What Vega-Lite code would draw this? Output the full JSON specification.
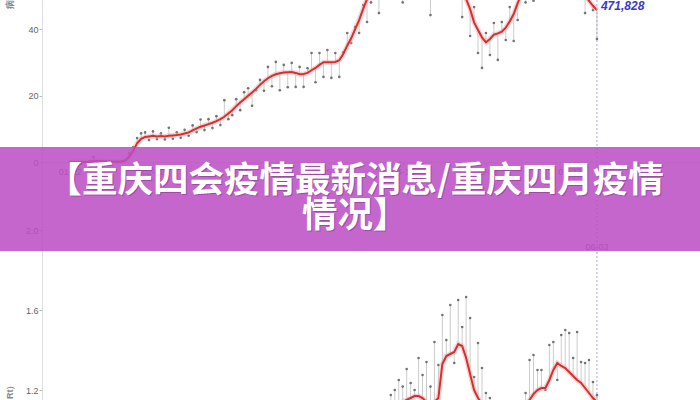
{
  "$schema": "https://vega.github.io/schema/vega-lite/v6.json",
  "width": 658,
  "height": 400,
  "autosize": {"type": "none"},
  "padding": {"left": 42, "top": 0, "right": 0, "bottom": 0},
  "background": "white",
  "config": {
    "view": {"stroke": null},
    "font": "Liberation Sans",
    "axis": {"grid": false, "labelFont": "Liberation Sans", "titleFont": "Liberation Sans"},
    "axisX": {"offset": -238, "domainColor": "#dddddd", "tickColor": "#bbbbbb", "tickSize": 3, "labelFontSize": 9, "labelColor": "#666666", "labelPadding": 2, "format": "%m-%d", "labelFlush": false, "labelOverlap": false}
  },
  "resolve": {"scale": {"y": "independent"}, "axis": {"y": "independent"}},
  "layer": [
    {
      "data": {
        "format": {"parse": {"d": "date:'%Y-%m-%d'"}},
        "values": [
          {"d":"2020-01-22","v":0,"a":0},{"d":"2020-01-23","v":0,"a":0},{"d":"2020-01-24","v":0,"a":0},{"d":"2020-01-25","v":0,"a":0},{"d":"2020-01-26","v":0,"a":0},
          {"d":"2020-01-27","v":0.3,"a":0.1},{"d":"2020-01-28","v":1.5,"a":0.3},{"d":"2020-01-29","v":0.3,"a":0.3},{"d":"2020-01-30","v":0,"a":0.3},{"d":"2020-01-31","v":0,"a":0.2},
          {"d":"2020-02-01","v":0.2,"a":0.2},{"d":"2020-02-02","v":0,"a":0.1},{"d":"2020-02-03","v":0,"a":0.1},{"d":"2020-02-04","v":0.2,"a":0.1},{"d":"2020-02-05","v":0.6,"a":0.4},
          {"d":"2020-02-06","v":2.6,"a":1.6},{"d":"2020-02-07","v":4.5,"a":3.4},{"d":"2020-02-08","v":7.2,"a":5.6},{"d":"2020-02-09","v":8.6,"a":7.0},{"d":"2020-02-10","v":8.9,"a":7.5},
          {"d":"2020-02-11","v":6.6,"a":7.7},{"d":"2020-02-12","v":9.2,"a":7.9},{"d":"2020-02-13","v":6.9,"a":7.7},{"d":"2020-02-14","v":8.6,"a":7.8},{"d":"2020-02-15","v":6.8,"a":7.7},
          {"d":"2020-02-16","v":10.3,"a":7.9},{"d":"2020-02-17","v":7.0,"a":8.0},{"d":"2020-02-18","v":8.9,"a":8.1},{"d":"2020-02-19","v":7.3,"a":8.3},{"d":"2020-02-20","v":9.7,"a":8.6},
          {"d":"2020-02-21","v":7.9,"a":8.9},{"d":"2020-02-22","v":11.0,"a":9.5},{"d":"2020-02-23","v":9.0,"a":10.1},{"d":"2020-02-24","v":12.8,"a":10.6},{"d":"2020-02-25","v":9.6,"a":11.0},
          {"d":"2020-02-26","v":12.9,"a":11.4},{"d":"2020-02-27","v":10.2,"a":11.8},{"d":"2020-02-28","v":13.8,"a":12.3},{"d":"2020-02-29","v":11.1,"a":12.9},{"d":"2020-03-01","v":18.6,"a":13.6},
          {"d":"2020-03-02","v":12.9,"a":14.6},{"d":"2020-03-03","v":14.1,"a":15.6},{"d":"2020-03-04","v":18.9,"a":16.8},{"d":"2020-03-05","v":15.6,"a":17.9},{"d":"2020-03-06","v":21.0,"a":18.9},
          {"d":"2020-03-07","v":22.2,"a":19.9},{"d":"2020-03-08","v":16.9,"a":20.9},{"d":"2020-03-09","v":21.6,"a":22.0},{"d":"2020-03-10","v":24.7,"a":23.2},{"d":"2020-03-11","v":21.4,"a":24.3},
          {"d":"2020-03-12","v":28.6,"a":25.2},{"d":"2020-03-13","v":22.8,"a":25.9},{"d":"2020-03-14","v":30.1,"a":26.4},{"d":"2020-03-15","v":21.6,"a":26.7},{"d":"2020-03-16","v":29.2,"a":26.9},
          {"d":"2020-03-17","v":22.5,"a":27.0},{"d":"2020-03-18","v":29.8,"a":27.1},{"d":"2020-03-19","v":22.6,"a":26.8},{"d":"2020-03-20","v":28.6,"a":26.4},{"d":"2020-03-21","v":22.6,"a":26.5},
          {"d":"2020-03-22","v":28.2,"a":26.8},{"d":"2020-03-23","v":32.8,"a":27.6},{"d":"2020-03-24","v":24.0,"a":28.3},{"d":"2020-03-25","v":32.8,"a":29.2},{"d":"2020-03-26","v":25.6,"a":30.0},
          {"d":"2020-03-27","v":33.7,"a":30.0},{"d":"2020-03-28","v":25.3,"a":30.0},{"d":"2020-03-29","v":32.8,"a":30.1},{"d":"2020-03-30","v":25.6,"a":30.6},{"d":"2020-03-31","v":33.0,"a":32.5},
          {"d":"2020-04-01","v":38.8,"a":35.0},{"d":"2020-04-02","v":35.8,"a":37.2},{"d":"2020-04-03","v":40.6,"a":40.0},{"d":"2020-04-04","v":38.8,"a":42.7},{"d":"2020-04-05","v":47.2,"a":46.0},
          {"d":"2020-04-06","v":42.1,"a":49.0},{"d":"2020-04-07","v":48.0,"a":51.5},{"d":"2020-04-08","v":56.0,"a":53.0},{"d":"2020-04-09","v":44.8,"a":54.0},{"d":"2020-04-10","v":58.0,"a":54.5},
          {"d":"2020-04-11","v":51.0,"a":55.0},{"d":"2020-04-12","v":59.0,"a":55.0},{"d":"2020-04-13","v":52.0,"a":54.5},{"d":"2020-04-14","v":58.0,"a":54.5},{"d":"2020-04-15","v":48.0,"a":54.0},
          {"d":"2020-04-16","v":57.0,"a":54.0},{"d":"2020-04-17","v":51.0,"a":54.5},{"d":"2020-04-18","v":59.0,"a":55.0},{"d":"2020-04-19","v":50.5,"a":55.0},{"d":"2020-04-20","v":58.0,"a":54.5},
          {"d":"2020-04-21","v":52.0,"a":54.0},{"d":"2020-04-22","v":44.2,"a":53.5},{"d":"2020-04-23","v":57.0,"a":53.0},{"d":"2020-04-24","v":50.0,"a":53.0},{"d":"2020-04-25","v":58.0,"a":52.5},
          {"d":"2020-04-26","v":50.5,"a":52.5},{"d":"2020-04-27","v":56.0,"a":52.0},{"d":"2020-04-28","v":49.5,"a":51.5},{"d":"2020-04-29","v":55.0,"a":51.0},{"d":"2020-04-30","v":43.6,"a":50.0},
          {"d":"2020-05-01","v":52.0,"a":49.0},{"d":"2020-05-02","v":37.9,"a":46.0},{"d":"2020-05-03","v":46.6,"a":42.0},{"d":"2020-05-04","v":32.8,"a":39.7},{"d":"2020-05-05","v":28.3,"a":37.5},
          {"d":"2020-05-06","v":38.8,"a":36.0},{"d":"2020-05-07","v":32.2,"a":37.0},{"d":"2020-05-08","v":41.8,"a":38.3},{"d":"2020-05-09","v":30.7,"a":38.7},{"d":"2020-05-10","v":42.1,"a":39.2},
          {"d":"2020-05-11","v":36.7,"a":40.4},{"d":"2020-05-12","v":46.6,"a":42.3},{"d":"2020-05-13","v":36.4,"a":44.5},{"d":"2020-05-14","v":42.7,"a":47.8},{"d":"2020-05-15","v":55.0,"a":50.5},
          {"d":"2020-05-16","v":48.0,"a":52.0},{"d":"2020-05-17","v":57.0,"a":53.0},{"d":"2020-05-18","v":48.5,"a":53.5},{"d":"2020-05-19","v":58.0,"a":54.0},{"d":"2020-05-20","v":51.0,"a":54.0},
          {"d":"2020-05-21","v":58.0,"a":54.0},{"d":"2020-05-22","v":50.5,"a":53.5},{"d":"2020-05-23","v":57.0,"a":53.5},{"d":"2020-05-24","v":50.0,"a":53.0},{"d":"2020-05-25","v":58.0,"a":53.0},
          {"d":"2020-05-26","v":50.0,"a":52.5},{"d":"2020-05-27","v":56.0,"a":52.5},{"d":"2020-05-28","v":50.0,"a":52.0},{"d":"2020-05-29","v":55.0,"a":51.5},{"d":"2020-05-30","v":49.5,"a":51.0},
          {"d":"2020-05-31","v":44.8,"a":50.0},{"d":"2020-06-01","v":52.0,"a":48.5},{"d":"2020-06-02","v":45.7,"a":47.0},{"d":"2020-06-03","v":37.0,"a":45.7}
        ]
      },
      "encoding": {
        "x": {
          "field": "d", "type": "temporal", "title": null,
          "scale": {"domain": [{"year": 2020, "month": 1, "date": 15}, {"year": 2020, "month": 6, "date": 29}]},
          "axis": {"values": [{"year": 2020, "month": 1, "date": 22}, {"year": 2020, "month": 2, "date": 12}, {"year": 2020, "month": 3, "date": 4}, {"year": 2020, "month": 3, "date": 25}, {"year": 2020, "month": 4, "date": 15}, {"year": 2020, "month": 5, "date": 6}, {"year": 2020, "month": 5, "date": 27}]}
        }
      },
      "layer": [
        {
          "mark": {"type": "rule", "color": "#cccccc", "strokeWidth": 1},
          "encoding": {
            "y": {
              "field": "v", "type": "quantitative",
              "scale": {"domain": [-71.58, 48.73], "nice": false, "zero": false},
              "axis": {"orient": "left", "values": [0, 20, 40], "title": "病例数（千）", "titleAngle": -90, "titleAlign": "left", "titleBaseline": "bottom", "titleY": 8, "titleX": -28, "titleFontSize": 9, "titleColor": "#888888", "domainColor": "#dddddd", "tickColor": "#bbbbbb", "tickSize": 3, "labelPadding": 1, "labelFontSize": 9, "labelColor": "#666666"}
            },
            "y2": {"field": "a"}
          }
        },
        {
          "mark": {"type": "point", "filled": true, "size": 7, "color": "#666666", "opacity": 0.9},
          "encoding": {"y": {"field": "v", "type": "quantitative"}}
        },
        {
          "mark": {"type": "line", "color": "#f2a3a3", "strokeWidth": 5, "opacity": 0.45},
          "encoding": {"y": {"field": "a", "type": "quantitative"}}
        },
        {
          "mark": {"type": "line", "color": "#d62f2f", "strokeWidth": 2},
          "encoding": {"y": {"field": "a", "type": "quantitative"}}
        }
      ]
    },
    {
      "data": {
        "format": {"parse": {"d": "date:'%Y-%m-%d'"}},
        "values": [
          {"d":"2020-04-11","v":1.12,"a":1.10},{"d":"2020-04-12","v":1.175,"a":1.11},{"d":"2020-04-13","v":1.20,"a":1.12},{"d":"2020-04-14","v":1.25,"a":1.13},{"d":"2020-04-15","v":1.217,"a":1.14},
          {"d":"2020-04-16","v":1.305,"a":1.15},{"d":"2020-04-17","v":1.235,"a":1.16},{"d":"2020-04-18","v":1.20,"a":1.17},{"d":"2020-04-19","v":1.36,"a":1.17},{"d":"2020-04-20","v":1.275,"a":1.16},
          {"d":"2020-04-21","v":1.34,"a":1.14},{"d":"2020-04-22","v":1.217,"a":1.13},{"d":"2020-04-23","v":1.44,"a":1.14},{"d":"2020-04-24","v":1.325,"a":1.16},{"d":"2020-04-25","v":1.575,"a":1.33},
          {"d":"2020-04-26","v":1.45,"a":1.37},{"d":"2020-04-27","v":1.625,"a":1.38},{"d":"2020-04-28","v":1.335,"a":1.39},{"d":"2020-04-29","v":1.65,"a":1.43},{"d":"2020-04-30","v":1.515,"a":1.42},
          {"d":"2020-05-01","v":1.665,"a":1.36},{"d":"2020-05-02","v":1.56,"a":1.28},{"d":"2020-05-03","v":1.265,"a":1.20},{"d":"2020-05-04","v":1.435,"a":1.16},{"d":"2020-05-05","v":1.31,"a":1.13},
          {"d":"2020-05-06","v":1.185,"a":1.11},{"d":"2020-05-07","v":1.16,"a":1.10},
          {"d":"2020-05-13","v":1.10,"a":1.08},{"d":"2020-05-14","v":1.12,"a":1.09},{"d":"2020-05-15","v":1.14,"a":1.10},{"d":"2020-05-16","v":1.185,"a":1.13},{"d":"2020-05-17","v":1.35,"a":1.15},
          {"d":"2020-05-18","v":1.375,"a":1.18},{"d":"2020-05-19","v":1.30,"a":1.20},{"d":"2020-05-20","v":1.30,"a":1.21},{"d":"2020-05-21","v":1.20,"a":1.21},{"d":"2020-05-22","v":1.425,"a":1.25},
          {"d":"2020-05-23","v":1.44,"a":1.30},{"d":"2020-05-24","v":1.25,"a":1.335},{"d":"2020-05-25","v":1.475,"a":1.32},{"d":"2020-05-26","v":1.50,"a":1.31},{"d":"2020-05-27","v":1.485,"a":1.29},
          {"d":"2020-05-28","v":1.36,"a":1.27},{"d":"2020-05-29","v":1.49,"a":1.25},{"d":"2020-05-30","v":1.34,"a":1.235},{"d":"2020-05-31","v":1.335,"a":1.21},{"d":"2020-06-01","v":1.35,"a":1.185},
          {"d":"2020-06-02","v":1.24,"a":1.16},{"d":"2020-06-03","v":1.175,"a":1.14}
        ]
      },
      "encoding": {"x": {"field": "d", "type": "temporal", "title": null}},
      "layer": [
        {
          "mark": {"type": "rule", "color": "#cccccc", "strokeWidth": 1},
          "encoding": {
            "y": {
              "field": "v", "type": "quantitative",
              "scale": {"domain": [1.15, 3.15], "nice": false, "zero": false},
              "axis": {"orient": "left", "values": [1.2, 1.6, 2.0], "format": ".1f", "title": "传播指数（Rt）", "titleAngle": -90, "titleAlign": "right", "titleBaseline": "bottom", "titleY": 380, "titleX": -28, "titleFontSize": 9, "titleColor": "#888888", "domainColor": "#dddddd", "tickColor": "#bbbbbb", "tickSize": 3, "labelPadding": 1, "labelFontSize": 9, "labelColor": "#666666"}
            },
            "y2": {"field": "a"}
          }
        },
        {
          "mark": {"type": "point", "filled": true, "size": 7, "color": "#666666", "opacity": 0.9},
          "encoding": {"y": {"field": "v", "type": "quantitative"}}
        },
        {
          "mark": {"type": "line", "color": "#f2a3a3", "strokeWidth": 5, "opacity": 0.45},
          "encoding": {"y": {"field": "a", "type": "quantitative"}}
        },
        {
          "mark": {"type": "line", "color": "#d62f2f", "strokeWidth": 2},
          "encoding": {"y": {"field": "a", "type": "quantitative"}}
        }
      ]
    },
    {
      "data": {"values": [{"t": 1}]},
      "layer": [
        {
          "mark": {"type": "rule", "color": "#a0a6e4", "strokeWidth": 1, "strokeDash": [2, 2]},
          "encoding": {
            "x": {"datum": {"year": 2020, "month": 6, "date": 3}, "type": "temporal", "title": null},
            "y": {"datum": 48.73, "type": "quantitative", "scale": {"domain": [-71.58, 48.73], "nice": false, "zero": false}, "axis": null},
            "y2": {"datum": -71.58}
          }
        },
        {
          "mark": {"type": "text", "align": "center", "baseline": "middle", "fontSize": 9, "color": "#666666"},
          "encoding": {
            "x": {"datum": {"year": 2020, "month": 6, "date": 3}, "type": "temporal", "title": null},
            "y": {"datum": -25.56, "type": "quantitative", "axis": null},
            "text": {"value": "06-03"}
          }
        },
        {
          "mark": {"type": "rect", "color": "#bb4fc4", "opacity": 0.87},
          "encoding": {
            "x": {"datum": {"year": 2019, "month": 12, "date": 1}, "type": "temporal", "title": null},
            "x2": {"datum": {"year": 2020, "month": 12, "date": 31}},
            "y": {"datum": 4.51, "type": "quantitative", "axis": null},
            "y2": {"datum": -26.77}
          }
        },
        {
          "mark": {"type": "text", "align": "center", "baseline": "middle", "font": "Noto Sans CJK SC", "fontSize": 35.5, "fontWeight": "bold", "lineHeight": 35, "color": "#5a1a60", "opacity": 0.35, "dx": 1, "dy": 1},
          "encoding": {
            "x": {"datum": {"year": 2020, "month": 4, "date": 3}, "type": "temporal", "title": null},
            "y": {"datum": -5.71, "type": "quantitative", "axis": null},
            "text": {"value": ["【重庆四会疫情最新消息/重庆四月疫情", "情况】"]}
          }
        },
        {
          "mark": {"type": "text", "align": "center", "baseline": "middle", "font": "Noto Sans CJK SC", "fontSize": 35.5, "fontWeight": "bold", "lineHeight": 35, "color": "#ffffff"},
          "encoding": {
            "x": {"datum": {"year": 2020, "month": 4, "date": 3}, "type": "temporal", "title": null},
            "y": {"datum": -5.71, "type": "quantitative", "axis": null},
            "text": {"value": ["【重庆四会疫情最新消息/重庆四月疫情", "情况】"]}
          }
        },
        {
          "mark": {"type": "text", "align": "left", "baseline": "middle", "dx": 4, "fontSize": 12, "fontStyle": "italic", "fontWeight": "bold", "color": "#3a3ac8"},
          "encoding": {
            "x": {"datum": {"year": 2020, "month": 6, "date": 3}, "type": "temporal", "title": null},
            "y": {"datum": 46.9, "type": "quantitative", "axis": null},
            "text": {"value": "471,828"}
          }
        }
      ]
    }
  ]
}
